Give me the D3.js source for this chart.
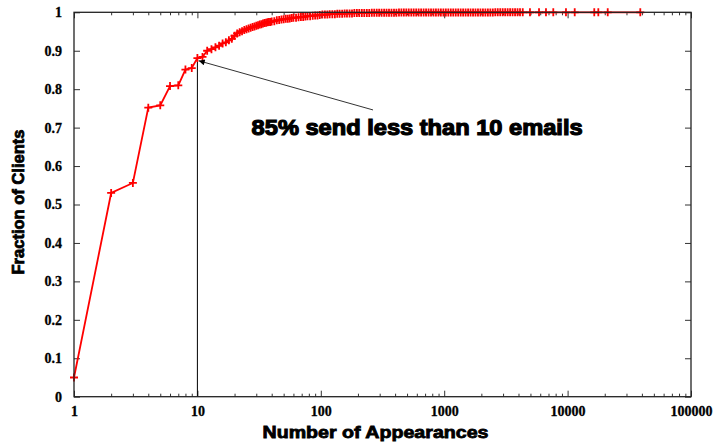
<!DOCTYPE html>
<html>
<head>
<meta charset="utf-8">
<script src="https://cdn.jsdelivr.net/npm/d3@7"></script>
<style>
  html, body { margin: 0; padding: 0; background: #fff; }
  svg { display: block; }
  .tick text { font-family: "Liberation Serif", "DejaVu Serif", serif; font-weight: bold; font-size: 14px; fill: #000; stroke: #000; stroke-width: 0.3px; }
  .title { font-family: "Liberation Sans", Arial, sans-serif; font-weight: bold; fill: #000; stroke: #000; stroke-width: 0.8px; }
</style>
</head>
<body>
<svg id="chart" width="720" height="444"></svg>
<script>
// Values (number of appearances -> cumulative fraction of clients)
const appearances = [
  1, 2, 3, 4, 5, 6, 7, 8, 9, 10,
  11, 12, 13, 14, 15, 16, 17, 18, 19, 20,
  21, 22, 23, 24, 25, 26, 27, 28, 29, 30,
  31, 32, 33, 34, 35, 36, 37, 38, 39, 40,
  42, 44, 46, 48, 50, 52, 54, 56, 58, 60,
  63, 66, 69, 72, 75, 78, 82, 86, 90, 94,
  98, 103, 108, 113, 118, 124, 130, 136, 142, 149,
  156, 163, 171, 179, 187, 196, 205, 215, 225, 236,
  247, 259, 271, 284, 297, 311, 326, 341, 357, 374,
  392, 410, 430, 450, 471, 493, 516, 541, 566, 593,
  621, 650, 681, 713, 747, 782, 819, 857, 898, 940,
  985, 1031, 1080, 1131, 1184, 1240, 1299, 1360, 1424, 1491,
  1562, 1635, 1713, 1793, 1878, 1967, 2060, 2157, 2259, 2365,
  2477, 2594, 2716, 2845, 2979, 3120, 3267, 3421, 3583, 3752,
  3929, 4115, 4330, 4955, 5866, 6680, 7656, 9700, 11420, 16450,
  17740, 21140, 38820
];
const fraction = [
  0.050, 0.530, 0.556, 0.752, 0.758, 0.808, 0.810, 0.851, 0.855, 0.881,
  0.884, 0.900, 0.904, 0.909, 0.913, 0.919, 0.922, 0.927, 0.931, 0.939,
  0.945, 0.948, 0.951, 0.954, 0.956, 0.958, 0.960, 0.962, 0.963, 0.965,
  0.966, 0.968, 0.969, 0.971, 0.972, 0.973, 0.974, 0.975, 0.975, 0.976,
  0.977, 0.979, 0.980, 0.981, 0.982, 0.983, 0.983, 0.984, 0.985, 0.986,
  0.986, 0.987, 0.988, 0.988, 0.989, 0.990, 0.990, 0.991, 0.992, 0.992,
  0.993, 0.994, 0.994, 0.994, 0.995, 0.995, 0.995, 0.996, 0.996, 0.996,
  0.997, 0.997, 0.997, 0.997, 0.998, 0.998, 0.998, 0.998, 0.998, 0.998,
  0.998, 0.999, 0.999, 0.999, 0.999, 0.999, 0.999, 0.999, 0.999, 0.999,
  0.999, 0.999, 0.9993, 0.9993, 0.9993, 0.9993, 0.9993, 0.9993, 0.9993, 0.9993,
  0.9993, 0.9996, 0.9996, 0.9996, 0.9996, 0.9996, 0.9996, 0.9996, 0.9996, 0.9996,
  0.9996, 0.9996, 0.9996, 0.9996, 0.9996, 0.9998, 0.9998, 0.9998, 0.9998, 0.9998,
  0.9998, 0.9998, 0.9998, 0.9998, 0.9998, 0.9998, 0.9998, 0.9998, 0.9998, 0.9998,
  0.9998, 0.9999, 0.9999, 0.9999, 0.9999, 0.9999, 0.9999, 0.9999, 0.9999, 0.9999,
  0.9999, 0.9999, 1, 1, 1, 1, 1, 1, 1, 1,
  1, 1, 1
];
const xMajorTicks = [1, 10, 100, 1000, 10000, 100000];
const xMinorTicks = [2, 3, 4, 5, 6, 7, 8, 9, 20, 30, 40, 50, 60, 70, 80, 90,
  200, 300, 400, 500, 600, 700, 800, 900, 2000, 3000, 4000, 5000, 6000, 7000, 8000, 9000,
  20000, 30000, 40000, 50000, 60000, 70000, 80000, 90000];
const yTicks = [0, 0.1, 0.2, 0.3, 0.4, 0.5, 0.6, 0.7, 0.8, 0.9, 1];
const yTickLabels = ["0", "0.1", "0.2", "0.3", "0.4", "0.5", "0.6", "0.7", "0.8", "0.9", "1"];

// annotation: marker at 10 emails, arrow from the label
const markX = 10;
const markY = 0.878;
const arrowFrom = [265, 0.746];
const arrowTo = [10.25, 0.874];
const noteText = "85% send less than 10 emails";
const noteAt = [27.5, 0.681];

// layout
const plotL = 74, plotR = 691, plotT = 12.3, plotB = 396.7;
const majorLen = 6, minorLen = 3;

const svg = d3.select("#chart");

const x = d3.scaleLog().domain([1, 100000]).range([plotL, plotR]);
const y = d3.scaleLinear().domain([0, 1]).range([plotB, plotT]);

svg.append("defs").append("marker")
  .attr("id", "head")
  .attr("viewBox", "0 0 10 10")
  .attr("refX", 10).attr("refY", 5)
  .attr("markerWidth", 7).attr("markerHeight", 6)
  .attr("markerUnits", "userSpaceOnUse")
  .attr("orient", "auto")
  .append("path")
  .attr("d", "M0,0L10,5L0,10z")
  .attr("fill", "#000");

// axes (ticks point inward, on all four sides)
function styleAxis(g) {
  g.select(".domain").remove();
  g.selectAll(".tick line").attr("stroke", "#333").attr("stroke-width", 1);
}

svg.append("g").attr("transform", `translate(0,${plotB})`)
  .call(d3.axisBottom(x).tickValues(xMajorTicks).tickSize(-majorLen).tickPadding(9.5).tickFormat(d3.format("d")))
  .call(styleAxis);
svg.append("g").attr("transform", `translate(0,${plotB})`)
  .call(d3.axisBottom(x).tickValues(xMinorTicks).tickSize(-minorLen).tickFormat(""))
  .call(styleAxis);
svg.append("g").attr("transform", `translate(0,${plotT})`)
  .call(d3.axisTop(x).tickValues(xMajorTicks).tickSize(-majorLen).tickFormat(""))
  .call(styleAxis);
svg.append("g").attr("transform", `translate(0,${plotT})`)
  .call(d3.axisTop(x).tickValues(xMinorTicks).tickSize(-minorLen).tickFormat(""))
  .call(styleAxis);
svg.append("g").attr("transform", `translate(${plotL},0)`)
  .call(d3.axisLeft(y).tickValues(yTicks).tickSize(-majorLen).tickPadding(12)
    .tickFormat((d, i) => yTickLabels[i]))
  .call(styleAxis);
svg.append("g").attr("transform", `translate(${plotR},0)`)
  .call(d3.axisRight(y).tickValues(yTicks).tickSize(-majorLen).tickFormat(""))
  .call(styleAxis);

// vertical marker line at 10
svg.append("line")
  .attr("x1", x(markX)).attr("x2", x(markX))
  .attr("y1", y(0)).attr("y2", y(markY))
  .attr("stroke", "#000").attr("stroke-width", 1);

// data line and + points
const pts = appearances.map((a, i) => [a, fraction[i]]);

svg.append("path")
  .datum(pts)
  .attr("fill", "none")
  .attr("stroke", "#ff0000")
  .attr("stroke-width", 1.8)
  .attr("d", d3.line().x(d => x(d[0])).y(d => y(d[1])));

svg.append("g").selectAll("path")
  .data(pts)
  .join("path")
  .attr("transform", d => `translate(${x(d[0])},${y(d[1])})`)
  .attr("d", "M-4,0H4M0,-4V4")
  .attr("stroke", "#ff0000")
  .attr("stroke-width", 1.8)
  .attr("fill", "none");

// frame on top
svg.append("rect")
  .attr("x", plotL).attr("y", plotT)
  .attr("width", plotR - plotL).attr("height", plotB - plotT)
  .attr("fill", "none")
  .attr("stroke", "#222")
  .attr("stroke-width", 1.3);

// annotation arrow + text
svg.append("line")
  .attr("x1", x(arrowFrom[0])).attr("y1", y(arrowFrom[1]))
  .attr("x2", x(arrowTo[0])).attr("y2", y(arrowTo[1]))
  .attr("stroke", "#333").attr("stroke-width", 1)
  .attr("marker-end", "url(#head)");

svg.append("text")
  .attr("class", "title")
  .attr("x", x(noteAt[0])).attr("y", y(noteAt[1]))
  .attr("font-size", 22)
  .attr("textLength", 331)
  .attr("lengthAdjust", "spacingAndGlyphs")
  .style("stroke-width", "1.2px")
  .text(noteText);

// axis titles
svg.append("text")
  .attr("class", "title")
  .attr("x", (plotL + plotR) / 2 - 7)
  .attr("y", 438)
  .attr("text-anchor", "middle")
  .attr("font-size", 16.5)
  .attr("textLength", 226)
  .attr("lengthAdjust", "spacingAndGlyphs")
  .text("Number of Appearances");

svg.append("text")
  .attr("class", "title")
  .attr("transform", "translate(24,202) rotate(-90)")
  .attr("text-anchor", "middle")
  .attr("font-size", 16)
  .attr("textLength", 145)
  .attr("lengthAdjust", "spacingAndGlyphs")
  .text("Fraction of Clients");
</script>
</body>
</html>
